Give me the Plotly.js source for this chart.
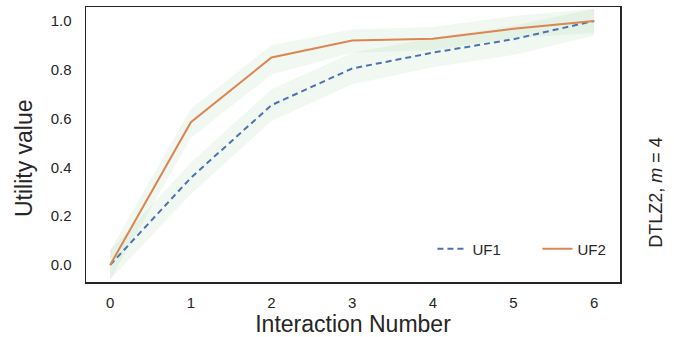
<!DOCTYPE html>
<html>
<head>
<meta charset="utf-8">
<script src="https://cdn.plot.ly/plotly-3.0.1.min.js"></script>
<style>html,body{margin:0;padding:0;background:#fff;}#chart{width:674px;height:337px;}</style>
</head>
<body>
<div id="chart"></div>
<script>
var interactions = [0, 1, 2, 3, 4, 5, 6];
var uf1Mean  = [0.00, 0.357, 0.655, 0.805, 0.870, 0.925, 1.00];
var uf1Lower = [-0.06, 0.29, 0.59, 0.74, 0.81, 0.86, 0.94];
var uf1Upper = [0.06, 0.42, 0.72, 0.87, 0.93, 0.98, 1.05];
var uf2Mean  = [0.00, 0.585, 0.850, 0.920, 0.927, 0.968, 1.00];
var uf2Lower = [-0.06, 0.52, 0.78, 0.87, 0.88, 0.93, 0.95];
var uf2Upper = [0.06, 0.64, 0.90, 0.965, 0.975, 1.02, 1.05];
var xTickLabels = ['0', '1', '2', '3', '4', '5', '6'];
var yTickVals = [0, 0.2, 0.4, 0.6, 0.8, 1.0];
var yTickLabels = ['0.0', '0.2', '0.4', '0.6', '0.8', '1.0'];

function band(lower, upper) {
  return {
    x: interactions.concat(interactions.slice().reverse()),
    y: upper.concat(lower.slice().reverse()),
    type: 'scatter', mode: 'lines', fill: 'toself',
    fillcolor: 'rgba(170,215,180,0.18)',
    line: {width: 0, color: 'rgba(0,0,0,0)'},
    hoverinfo: 'skip', showlegend: false
  };
}

var traces = [
  band(uf1Lower, uf1Upper),
  band(uf2Lower, uf2Upper),
  {x: interactions, y: uf1Mean, type: 'scatter', mode: 'lines', name: 'UF1',
   line: {color: '#4c72b0', width: 2, dash: '6px,4px'}},
  {x: interactions, y: uf2Mean, type: 'scatter', mode: 'lines', name: 'UF2',
   line: {color: '#dd8452', width: 2}}
];

var txt = '#262626';
var layout = {
  width: 674, height: 337,
  margin: {l: 86, r: 54, t: 7, b: 55},
  paper_bgcolor: '#fff', plot_bgcolor: '#fff',
  font: {family: 'Liberation Sans, Arial, sans-serif', color: txt, size: 15},
  showlegend: true,
  legend: {orientation: 'h', x: 1.042, xanchor: 'right', y: 0.06, yanchor: 'bottom',
           bgcolor: 'rgba(0,0,0,0)', font: {size: 15, color: txt}, entrywidth: 60},
  xaxis: {
    range: [-0.3, 6.32], tickvals: interactions, ticktext: xTickLabels,
    showgrid: false, zeroline: false, showline: true, mirror: true,
    linecolor: txt, linewidth: 1.5,
    ticks: 'outside', ticklen: 6, tickcolor: 'rgba(0,0,0,0)',
    tickfont: {size: 15, color: txt},
    title: {text: 'Interaction Number', font: {size: 23, color: txt}, standoff: 6}
  },
  yaxis: {
    range: [-0.07, 1.057], tickvals: yTickVals, ticktext: yTickLabels,
    showgrid: false, zeroline: false, showline: true, mirror: true,
    linecolor: txt, linewidth: 1.5,
    ticks: 'outside', ticklen: 10, tickcolor: 'rgba(0,0,0,0)',
    tickfont: {size: 15, color: txt}
  },
  annotations: [{
    text: 'Utility value', xref: 'paper', yref: 'paper',
    x: -0.116, y: 0.451, xanchor: 'center', yanchor: 'middle',
    textangle: -90, showarrow: false, font: {size: 23, color: txt}
  }, {
    text: 'DTLZ2, <i>m</i> = 4', xref: 'paper', yref: 'paper',
    x: 1.067, y: 0.327, xanchor: 'center', yanchor: 'middle',
    textangle: -90, showarrow: false, font: {size: 18, color: txt}
  }]
};

Plotly.newPlot('chart', traces, layout, {displayModeBar: false, staticPlot: true});
</script>
</body>
</html>
